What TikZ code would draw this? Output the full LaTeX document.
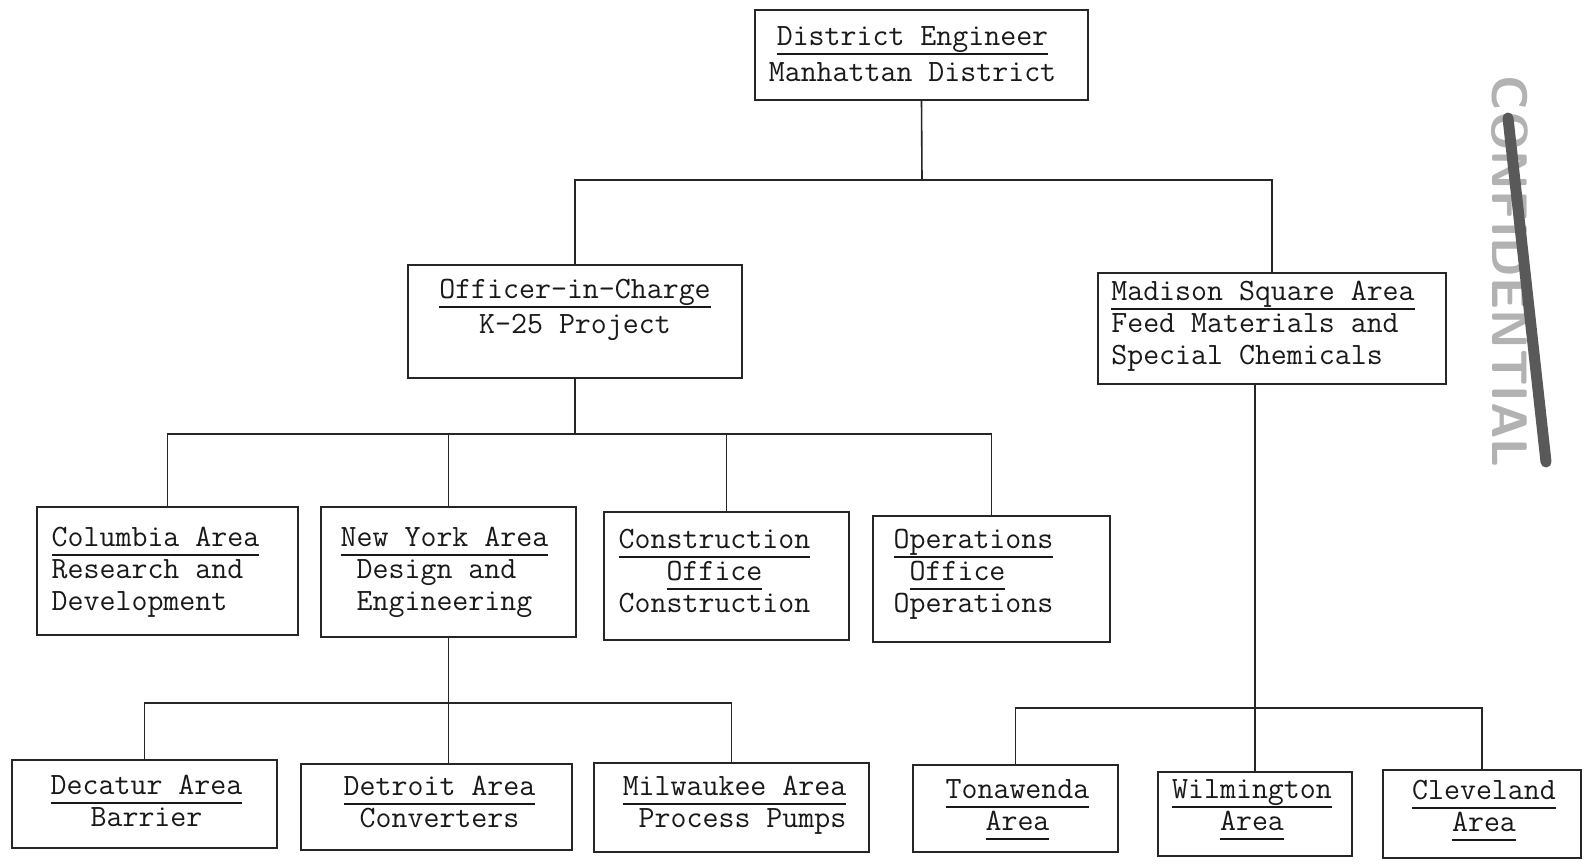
\documentclass[tikz,border=0pt]{standalone}
\usetikzlibrary{positioning}

\newcommand{\typefont}{\fontsize{15.5}{16}\selectfont\ttfamily}
\newcommand{\typeul}[1]{\setbox0\hbox{#1}\rlap{\rule[-4.6pt]{\wd0}{0.9pt}}\box0}

\tikzset{
  orgbox/.style={draw=black!85, line width=0.9pt, inner sep=0pt},
  boxtext/.style={font=\typefont, text=black!90, inner sep=0pt},
  link/.style={draw=black!85, line width=0.8pt},
  stampmark/.style={font=\fontsize{25}{25}\selectfont\sffamily\bfseries, text=black!30, inner sep=0pt}
}

\begin{document}
\begin{tikzpicture}[x=0.5pt,y=-0.5pt]
        % Page
        \fill[white] (0,0) rectangle (1585,867);
        \useasboundingbox (0,0) rectangle (1585,867);

        % Top
        \node[orgbox, minimum width=166.5pt, minimum height=45pt] (de) at (921.5,55) {};
        \node[boxtext, align=center, below=8.5pt of de.north, xshift=-4.5pt] (detext) {\typeul{District Engineer}\\[2pt]Manhattan District};

        % Second level
        \node[orgbox, minimum width=167pt, minimum height=56.5pt] (k25) at (575,321.5) {};
        \node[boxtext, align=center, below=7.5pt of k25.north] (k25text) {\typeul{Officer-in-Charge}\\[1.5pt]K-25 Project};

        \node[orgbox, minimum width=174pt, minimum height=55.5pt] (madison) at (1272,328.5) {};
        \node[boxtext, align=left, below=4.5pt of madison.north, xshift=-4.5pt] (madisontext) {\typeul{Madison Square Area}\\Feed Materials and\\Special Chemicals};

        % K-25 areas
        \node[orgbox, minimum width=130.5pt, minimum height=64pt] (columbia) at (167.5,571) {};
        \node[boxtext, align=left, below=10.5pt of columbia.north, xshift=-6pt] (columbiatext) {\typeul{Columbia Area}\\Research and\\Development};

        \node[orgbox, minimum width=127.5pt, minimum height=65pt] (newyork) at (448.5,572) {};
        \node[boxtext, align=left, below=10.5pt of newyork.north, xshift=-2pt] (newyorktext) {\typeul{New York Area}\\\phantom{x}Design and\\\phantom{x}Engineering};

        \node[orgbox, minimum width=122.5pt, minimum height=64pt] (construction) at (726.5,576) {};
        \node[boxtext, align=center, below=9pt of construction.north, xshift=-6pt] (constructiontext) {\typeul{Construction}\\\typeul{Office}\\Construction};

        \node[orgbox, minimum width=118.5pt, minimum height=63pt] (operations) at (991.5,579) {};
        \node[boxtext, align=left, below=7pt of operations.north, xshift=-9pt] (operationstext) {\typeul{Operations}\\\phantom{x}\typeul{Office}\\Operations};

        % New York sub-areas
        \node[orgbox, minimum width=132.5pt, minimum height=44pt] (decatur) at (144.5,804) {};
        \node[boxtext, align=center, below=8pt of decatur.north, xshift=1pt] (decaturtext) {\typeul{Decatur Area}\\Barrier};

        \node[orgbox, minimum width=135.5pt, minimum height=43pt] (detroit) at (436.5,807) {};
        \node[boxtext, align=center, below=6.5pt of detroit.north, xshift=1.5pt] (detroittext) {\typeul{Detroit Area}\\Converters};

        \node[orgbox, minimum width=137.5pt, minimum height=44.5pt] (milwaukee) at (731.5,807.5) {};
        \node[boxtext, align=left, below=7pt of milwaukee.north, xshift=1.5pt] (milwaukeetext) {\typeul{Milwaukee Area}\\\phantom{x}Process Pumps};

        % Madison Square sub-areas
        \node[orgbox, minimum width=102.5pt, minimum height=43.5pt] (tonawenda) at (1015.5,808.5) {};
        \node[boxtext, align=center, below=7.5pt of tonawenda.north, xshift=1pt] (tonawendatext) {\typeul{Tonawenda}\\\typeul{Area}};

        \node[orgbox, minimum width=97pt, minimum height=42pt] (wilmington) at (1255,814) {};
        \node[boxtext, align=center, below=4pt of wilmington.north, xshift=-1.5pt] (wilmingtontext) {\typeul{Wilmington}\\\typeul{Area}};

        \node[orgbox, minimum width=99pt, minimum height=44pt] (cleveland) at (1482,814) {};
        \node[boxtext, align=center, below=5.5pt of cleveland.north, xshift=1pt] (clevelandtext) {\typeul{Cleveland}\\\typeul{Area}};

        % Connectors
        \coordinate (topbus) at (922,180);
        \draw[link] (de.south) -- (topbus);
        \draw[link] (k25.north) |- (topbus) -| (madison.north);

        \coordinate (k25bus) at (575,434);
        \draw[link] (k25.south) -- (k25bus);
        \draw[link] (columbia.north) |- (k25bus) -| (operations.north);
        \foreach \n in {newyork,construction}
          \draw[link] (k25bus -| \n.north) -- (\n.north);

        \coordinate (nybus) at (448.5,703);
        \draw[link] (newyork.south) -- (newyork.south |- detroit.north);
        \draw[link] (decatur.north) |- (nybus) -| (milwaukee.north);

        \coordinate (madbus) at (1255,708);
        \draw[link] (madison.south -| madbus) -- (wilmington.north);
        \draw[link] (tonawenda.north) |- (madbus) -| (cleveland.north);

        % Stamp, struck out
        \node[stampmark, rotate=-90] (stampword) at (1510,272) {CONFIDENTIAL};
        \draw[line width=5.5pt, black!65, line cap=round] (1508,118) -- (1546,462);
\end{tikzpicture}
\end{document}
